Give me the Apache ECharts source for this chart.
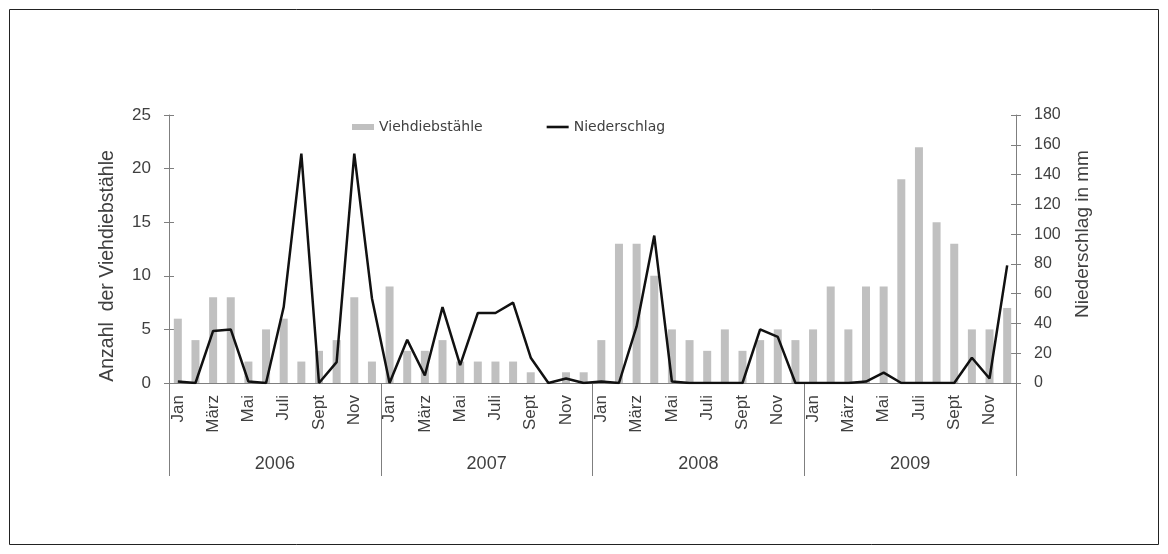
<!DOCTYPE html>
<html>
<head>
<meta charset="utf-8">
<script src="https://cdn.jsdelivr.net/npm/echarts@6/dist/echarts.min.js"></script>
<style>
html,body{margin:0;padding:0;background:#fff;}
#chart{width:1168px;height:554px;}
</style>
</head>
<body>
<div id="chart"></div>
<script>
const years = ['2006', '2007', '2008', '2009'];
const monthNames = ['Jan', 'Feb', 'März', 'Apr', 'Mai', 'Juni', 'Juli', 'Aug', 'Sept', 'Okt', 'Nov', 'Dez'];
const viehdiebstaehle = [
  6, 4, 8, 8, 2, 5, 6, 2, 3, 4, 8, 2,
  9, 3, 3, 4, 2, 2, 2, 2, 1, 0, 1, 1,
  4, 13, 13, 10, 5, 4, 3, 5, 3, 4, 5, 4,
  5, 9, 5, 9, 9, 19, 22, 15, 13, 5, 5, 7
];
const niederschlag = [
  1, 0, 35, 36, 1, 0, 51, 154, 0, 14, 154, 57,
  0, 29, 5, 51, 12, 47, 47, 54, 17, 0, 3, 0,
  1, 0, 38, 99, 1, 0, 0, 0, 0, 36, 31, 0,
  0, 0, 0, 1, 7, 0, 0, 0, 0, 17, 3, 79
];
const leftTicks = { min: 0, max: 25, interval: 5 };
const rightTicks = { min: 0, max: 180, interval: 20 };

const categories = [];
years.forEach(y => monthNames.forEach(m => categories.push(m + ' ' + y)));

const font = 'Liberation Sans, Arial, sans-serif';
const axisColor = '#7f7f7f';
const textColor = '#404040';

const chart = echarts.init(document.getElementById('chart'), null, { renderer: 'canvas' });
chart.setOption({
  animation: false,
  backgroundColor: '#fff',
  textStyle: { fontFamily: font },
  grid: { left: 169, right: 152, top: 115, bottom: 171, containLabel: false },
  legend: {
    left: 347, top: 115,
    itemGap: 64,
    itemWidth: 22, itemHeight: 6,
    textStyle: { fontFamily: 'DejaVu Sans, sans-serif', fontSize: 14, color: textColor },
    data: [
      { name: 'Viehdiebstähle', icon: 'rect' },
      { name: 'Niederschlag', icon: 'path://M0,0L22,0L22,2.6L0,2.6Z', itemStyle: { color: '#111' } }
    ]
  },
  xAxis: [
    {
      type: 'category',
      data: categories,
      position: 'bottom',
      boundaryGap: true,
      axisLine: { show: true, lineStyle: { color: axisColor, width: 1 } },
      axisTick: { show: false },
      splitLine: { show: false },
      axisLabel: {
        interval: 1,
        rotate: 90,
        margin: 12,
        fontSize: 17,
        color: textColor,
        fontFamily: font,
        formatter: v => v.split(' ')[0]
      }
    },
    {
      type: 'category',
      data: years,
      position: 'bottom',
      boundaryGap: true,
      axisLine: { show: false },
      axisTick: { show: true, interval: 0, length: 93, lineStyle: { color: axisColor, width: 1 } },
      splitLine: { show: false },
      axisLabel: { margin: 72, fontSize: 18, color: textColor, fontFamily: font }
    }
  ],
  yAxis: [
    {
      type: 'value', position: 'left',
      min: leftTicks.min, max: leftTicks.max, interval: leftTicks.interval,
      axisLine: { show: true, lineStyle: { color: axisColor } },
      axisTick: { show: true, inside: false, length: 5, lineStyle: { color: axisColor } },
      splitLine: { show: false },
      axisLabel: { margin: 18, fontSize: 17, color: textColor, fontFamily: font }
    },
    {
      type: 'value', position: 'left',
      min: leftTicks.min, max: leftTicks.max, interval: leftTicks.interval,
      axisLine: { show: false },
      axisTick: { show: true, inside: true, length: 5, lineStyle: { color: axisColor } },
      splitLine: { show: false },
      axisLabel: { show: false }
    },
    {
      type: 'value', position: 'right',
      min: rightTicks.min, max: rightTicks.max, interval: rightTicks.interval,
      axisLine: { show: true, lineStyle: { color: axisColor } },
      axisTick: { show: true, inside: false, length: 5, lineStyle: { color: axisColor } },
      splitLine: { show: false },
      axisLabel: { margin: 18, fontSize: 16, color: textColor, fontFamily: font }
    },
    {
      type: 'value', position: 'right',
      min: rightTicks.min, max: rightTicks.max, interval: rightTicks.interval,
      axisLine: { show: false },
      axisTick: { show: true, inside: true, length: 5, lineStyle: { color: axisColor } },
      splitLine: { show: false },
      axisLabel: { show: false }
    }
  ],
  series: [
    {
      name: 'Viehdiebstähle',
      type: 'bar',
      xAxisIndex: 0, yAxisIndex: 0,
      data: viehdiebstaehle,
      barWidth: 8,
      itemStyle: { color: '#c0c0c0' },
      z: 2
    },
    {
      name: 'Niederschlag',
      type: 'line',
      xAxisIndex: 0, yAxisIndex: 2,
      data: niederschlag,
      symbol: 'none',
      lineStyle: { color: '#111', width: 2.5 },
      itemStyle: { color: '#111' },
      z: 3
    }
  ],
  graphic: [
    {
      type: 'rect', silent: true, z: -1,
      shape: { x: 9.5, y: 9.5, width: 1149, height: 535 },
      style: { fill: 'none', stroke: '#222', lineWidth: 1 }
    },
    {
      type: 'text', silent: true,
      x: 108, y: 266, rotation: Math.PI / 2,
      style: { text: 'Anzahl  der Viehdiebstähle', fontSize: 19.5, fontFamily: font, fill: textColor, align: 'center', verticalAlign: 'middle' }
    },
    {
      type: 'text', silent: true,
      x: 1083, y: 234, rotation: Math.PI / 2,
      style: { text: 'Niederschlag in mm', fontSize: 19, fontFamily: font, fill: textColor, align: 'center', verticalAlign: 'middle' }
    }
  ]
});
</script>
</body>
</html>
